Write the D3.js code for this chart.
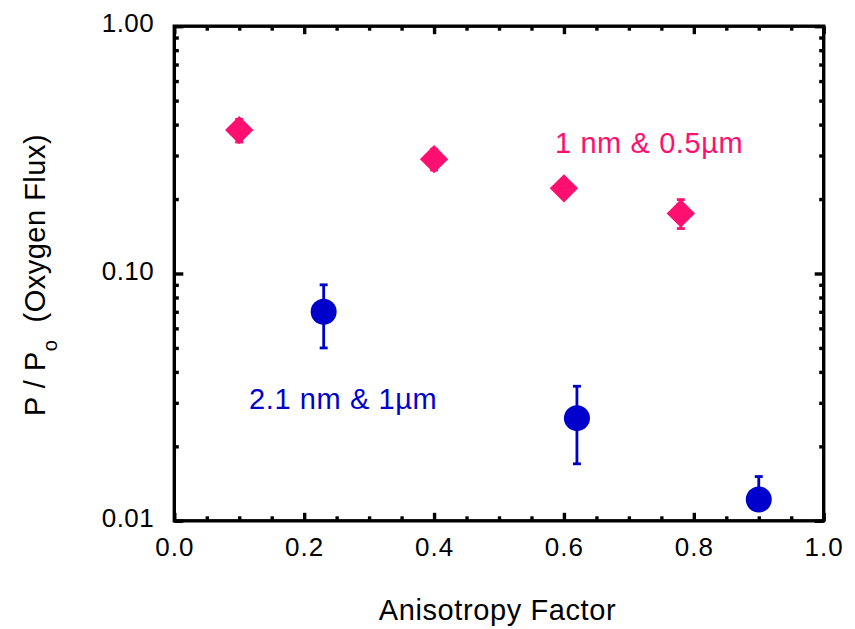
<!DOCTYPE html>
<html>
<head>
<meta charset="utf-8">
<script src="https://cdn.jsdelivr.net/npm/d3@7"></script>
<style>
  body { margin: 0; background: #fff; }
  svg text { font-family: "Liberation Sans", Arial, Helvetica, sans-serif; }
</style>
</head>
<body>
<div id="chart"></div>
<script>
// 1 nm & 0.5um series (pink diamonds)
const pinkX = [0.1, 0.4, 0.6, 0.78];
const pinkY = [0.38, 0.29, 0.221, 0.175];
const pinkLo = [0.34, 0.262, 0.205, 0.152];
const pinkHi = [0.42, 0.318, 0.238, 0.199];

// 2.1 nm & 1um series (blue circles)
const blueX = [0.23, 0.62, 0.9];
const blueY = [0.07, 0.026, 0.0122];
const blueLo = [0.05, 0.017, 0.011];
const blueHi = [0.09, 0.035, 0.0151];

const xTicks = [0, 0.2, 0.4, 0.6, 0.8, 1.0];
const xTickLabels = ["0.0", "0.2", "0.4", "0.6", "0.8", "1.0"];
const xMinor = [0.05, 0.1, 0.15, 0.25, 0.3, 0.35, 0.45, 0.5, 0.55, 0.65, 0.7, 0.75, 0.85, 0.9, 0.95];
const yTicks = [0.01, 0.1, 1];
const yTickLabels = ["0.01", "0.10", "1.00"];
const yMinor = [0.02, 0.03, 0.04, 0.05, 0.06, 0.07, 0.08, 0.09, 0.2, 0.3, 0.4, 0.5, 0.6, 0.7, 0.8, 0.9];

const width = 855, height = 629;
const pLeft = 174.3, pRight = 823.7, pTop = 26.2, pBottom = 520.8;
const pink = "#ff1070", blue = "#0000cc";

const svg = d3.select("#chart").append("svg")
    .attr("width", width)
    .attr("height", height);

const x = d3.scaleLinear().domain([0, 1]).range([pLeft, pRight]);
const y = d3.scaleLog().domain([0.01, 1]).range([pBottom, pTop]);

// helper: draw an axis of inward ticks, strip its domain line
function ticks(axis, tx, ty, cls) {
    const g = svg.append("g")
        .attr("class", cls)
        .attr("transform", "translate(" + tx + "," + ty + ")")
        .call(axis);
    g.select(".domain").remove();
    g.selectAll(".tick line").attr("stroke", "#000").attr("stroke-width", 3.4);
    return g;
}

// major ticks on all four sides (inward)
const xb = ticks(d3.axisBottom(x).tickValues(xTicks).tickSizeInner(-8).tickSizeOuter(0).tickPadding(17)
    .tickFormat((d, i) => xTickLabels[i]), 0, pBottom, "xb");
xb.selectAll("text").attr("font-size", "26px").attr("letter-spacing", "1px")
    .attr("fill", "#000").attr("dy", "0.71em");
ticks(d3.axisTop(x).tickValues(xTicks).tickSizeInner(-8).tickSizeOuter(0).tickFormat(""), 0, pTop, "xt");

const yl = ticks(d3.axisLeft(y).tickValues(yTicks).tickSizeInner(-9).tickSizeOuter(0).tickPadding(20)
    .tickFormat((d, i) => yTickLabels[i]), pLeft, 0, "yl");
yl.selectAll("text").attr("font-size", "26px").attr("letter-spacing", "0.5px")
    .attr("fill", "#000").attr("dy", "0.22em");
ticks(d3.axisRight(y).tickValues(yTicks).tickSizeInner(-9).tickSizeOuter(0).tickFormat(""), pRight, 0, "yr");

// minor ticks
ticks(d3.axisBottom(x).tickValues(xMinor).tickSizeInner(-4.5).tickSizeOuter(0).tickFormat(""), 0, pBottom, "xbm");
ticks(d3.axisTop(x).tickValues(xMinor).tickSizeInner(-4.5).tickSizeOuter(0).tickFormat(""), 0, pTop, "xtm");
ticks(d3.axisLeft(y).tickValues(yMinor).tickSizeInner(-4.5).tickSizeOuter(0).tickFormat(""), pLeft, 0, "ylm");
ticks(d3.axisRight(y).tickValues(yMinor).tickSizeInner(-4.5).tickSizeOuter(0).tickFormat(""), pRight, 0, "yrm");

// plot frame
svg.append("rect")
    .attr("x", pLeft).attr("y", pTop)
    .attr("width", pRight - pLeft).attr("height", pBottom - pTop)
    .attr("fill", "none").attr("stroke", "#000").attr("stroke-width", 3.4);

// error bars with caps
function errorBars(xs, lo, hi, color) {
    const g = svg.append("g").attr("stroke", color).attr("stroke-width", 2.8);
    xs.forEach((d, i) => {
        g.append("line").attr("x1", x(d)).attr("x2", x(d)).attr("y1", y(lo[i])).attr("y2", y(hi[i]));
        g.append("line").attr("x1", x(d) - 4).attr("x2", x(d) + 4).attr("y1", y(lo[i])).attr("y2", y(lo[i]));
        g.append("line").attr("x1", x(d) - 4).attr("x2", x(d) + 4).attr("y1", y(hi[i])).attr("y2", y(hi[i]));
    });
}
errorBars(pinkX, pinkLo, pinkHi, pink);
errorBars(blueX, blueLo, blueHi, blue);

// pink diamonds
const dSize = 14.2;
svg.append("g").selectAll("path")
    .data(pinkX)
    .join("path")
    .attr("d", (d, i) => {
        const cx = x(d), cy = y(pinkY[i]);
        return "M" + cx + "," + (cy - dSize) + "L" + (cx + dSize) + "," + cy +
            "L" + cx + "," + (cy + dSize) + "L" + (cx - dSize) + "," + cy + "Z";
    })
    .attr("fill", pink);

// blue circles
svg.append("g").selectAll("circle")
    .data(blueX)
    .join("circle")
    .attr("cx", d => x(d))
    .attr("cy", (d, i) => y(blueY[i]))
    .attr("r", 13)
    .attr("fill", blue);

// series annotations
svg.append("text")
    .attr("x", 555).attr("y", 152.7)
    .attr("font-size", "29px").attr("letter-spacing", "0.6px").attr("fill", pink)
    .text("1 nm & 0.5\u00b5m");

svg.append("text")
    .attr("x", 249).attr("y", 409.3)
    .attr("font-size", "29px").attr("letter-spacing", "0.6px").attr("fill", blue)
    .text("2.1 nm & 1\u00b5m");

// axis titles
svg.append("text")
    .attr("x", 497.5).attr("y", 620)
    .attr("text-anchor", "middle")
    .attr("font-size", "29px").attr("letter-spacing", "0.6px")
    .text("Anisotropy Factor");

const yt = svg.append("text")
    .attr("transform", "translate(45,275) rotate(-90)")
    .attr("text-anchor", "middle")
    .attr("font-size", "29px").attr("letter-spacing", "0.5px");
yt.append("tspan").text("P / P");
yt.append("tspan").attr("font-size", "20px").attr("dy", 12).text("o");
yt.append("tspan").attr("dy", -12).text("\u00a0\u00a0(Oxygen Flux)");
</script>
</body>
</html>
